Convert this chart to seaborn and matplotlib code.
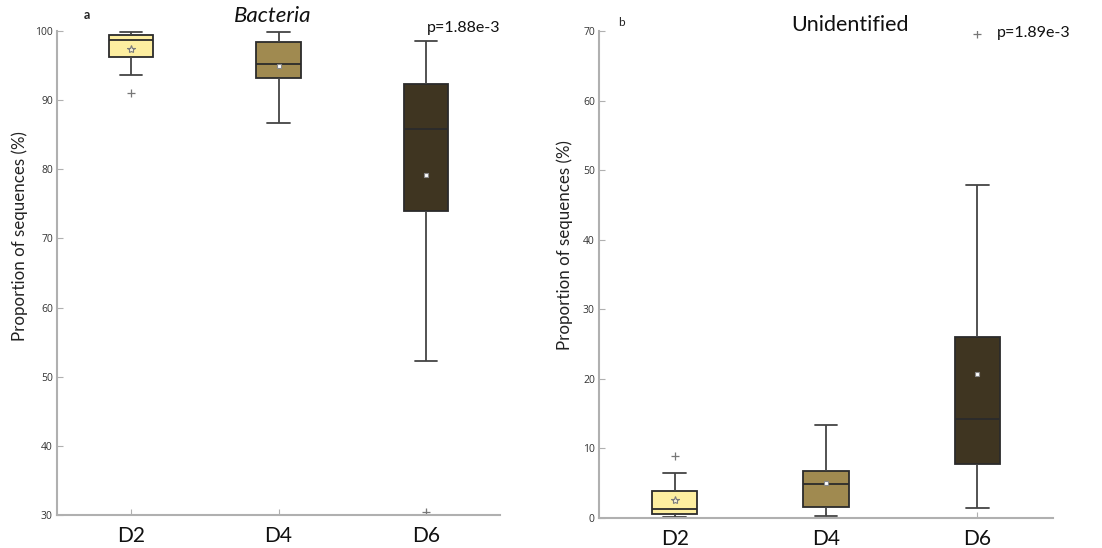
import numpy as np
import pandas as pd
import matplotlib
matplotlib.use("Agg")
import matplotlib.pyplot as plt
import seaborn as sns

# Sampling days
days = ["D2", "D4", "D6"]

# Per-sample proportion of sequences (%) assigned to Bacteria
bacteria_d2 = [99.8, 99.7, 99.55, 99.47, 99.2, 98.9, 98.75, 98.1, 97.0, 96.17, 95.0, 93.58, 91.0]
bacteria_d4 = [99.8, 99.4, 98.8, 98.4, 97.0, 95.9, 95.2, 94.4, 93.7, 93.2, 91.8, 90.1, 86.7]
bacteria_d6 = [98.55, 97.0, 94.5, 92.3, 90.5, 88.0, 85.8, 82.65, 79.0, 74.0, 64.5, 52.3, 30.5]

# Per-sample proportion of sequences (%) left unidentified
unident_d2 = [0.19, 0.30, 0.45, 0.53, 0.80, 1.10, 1.25, 1.90, 3.00, 3.83, 5.00, 6.42, 8.90]
unident_d4 = [0.24, 0.60, 1.20, 1.63, 2.80, 4.00, 4.89, 5.50, 6.20, 6.71, 8.00, 9.67, 13.30]
unident_d6 = [1.44, 3.0, 5.5, 7.7, 9.5, 12.0, 14.2, 17.0, 21.0, 26.0, 34.36, 47.8, 69.6]

p_bacteria = "p=1.88e-3"
p_unident = "p=1.89e-3"

box_colors = ["#FDEEA0", "#A08A50", "#3F3521"]


def long_table(groups):
    rows = []
    for day, vals in zip(days, groups):
        rows += [(day, v) for v in vals]
    return pd.DataFrame(rows, columns=["day", "value"])


df_bac = long_table([bacteria_d2, bacteria_d4, bacteria_d6])
df_uni = long_table([unident_d2, unident_d4, unident_d6])

sns.set_theme(style="white")
plt.rcParams["font.family"] = ["Lato", "DejaVu Sans"]

fig = plt.figure(figsize=(11.02, 5.48), dpi=100)
ax1 = fig.add_axes([57 / 1102, 1 - 515 / 548, 443 / 1102, 484 / 548])
ax2 = fig.add_axes([599 / 1102, 1 - 518 / 548, 454 / 1102, 487 / 548])


def draw(ax, df, ylim, yticks):
    sns.boxplot(
        data=df, x="day", y="value", hue="day", order=days, hue_order=days,
        palette=box_colors, legend=False, ax=ax, width=0.3, whis=1.5,
        linecolor="#2b2b2b", linewidth=1.3, saturation=1,
        showmeans=True,
        meanprops=dict(marker="s", markersize=3.5, markerfacecolor="white",
                       markeredgecolor="#888888", markeredgewidth=0.8),
        flierprops=dict(marker="+", markersize=6, markeredgecolor="#777777",
                        markeredgewidth=0.9),
        whiskerprops=dict(color="#444444"),
        capprops=dict(color="#444444"),
    )
    # star marker for the first group's mean
    for ln in ax.lines:
        if ln.get_marker() == "s":
            x = np.asarray(ln.get_xdata(), dtype=float)
            if x.size and abs(x[0]) < 0.01:
                ln.set_marker("*")
                ln.set_markersize(6)
                ln.set_markerfacecolor("#f6f0d6")
                ln.set_markeredgecolor("#7a7a7a")
    ax.set_xlim(-0.5, 2.5)
    ax.set_ylim(*ylim)
    ax.set_yticks(yticks)
    ax.set_xlabel("")
    ax.set_ylabel("")
    for side in ("top", "right"):
        ax.spines[side].set_visible(False)
    for side in ("left", "bottom"):
        ax.spines[side].set_color("#b0b0b0")
        ax.spines[side].set_linewidth(1.5)
    ax.tick_params(axis="y", direction="in", length=4, width=0.8,
                   color="#b0b0b0", labelsize=7.5, labelcolor="#333333", pad=3,
                   left=True)
    ax.tick_params(axis="x", direction="in", length=4, width=0.8,
                   color="#b0b0b0", labelsize=15, labelcolor="#111111", pad=8,
                   bottom=True)
    for lab in ax.get_yticklabels():
        lab.set_fontfamily(["Open Sans", "DejaVu Sans"])
    ax.grid(False)


draw(ax1, df_bac, (30, 100), range(30, 101, 10))
draw(ax2, df_uni, (0, 70), range(0, 71, 10))

# Panel letters, titles, p-values, axis labels
fig.text(87 / 1102, 1 - 15 / 548, "a", fontsize=9, fontweight="bold",
         ha="center", va="center", color="#222222")
fig.text(273 / 1102, 1 - 16 / 548, "Bacteria", fontsize=16, style="italic",
         ha="center", va="center", color="#111111")
fig.text(427 / 1102, 1 - 28 / 548, p_bacteria, fontsize=11.5,
         ha="left", va="center", color="#111111")

fig.text(621 / 1102, 1 - 22 / 548, "b", fontsize=8.5,
         ha="center", va="center", color="#222222")
fig.text(850 / 1102, 1 - 25 / 548, "Unidentified", fontsize=15.5,
         ha="center", va="center", color="#111111")
fig.text(997 / 1102, 1 - 33 / 548, p_unident, fontsize=11.5,
         ha="left", va="center", color="#111111")

fig.text(20 / 1102, 1 - 236 / 548, "Proportion of sequences (%)", fontsize=12.2,
         rotation=90, ha="center", va="center", color="#222222")
fig.text(565 / 1102, 1 - 245 / 548, "Proportion of sequences (%)", fontsize=12.2,
         rotation=90, ha="center", va="center", color="#222222")

fig.savefig("out.png", dpi=100, facecolor="white")
